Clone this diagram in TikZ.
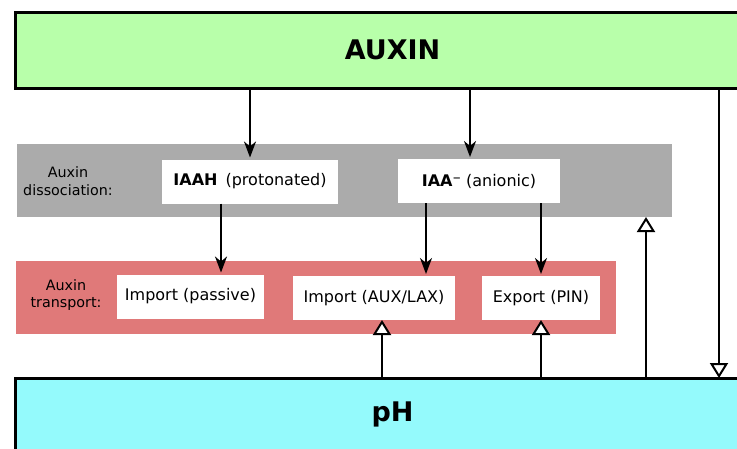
\documentclass[tikz,border=0pt]{standalone}
\usepackage{fontspec}
\setmainfont{DejaVu Sans}
\usetikzlibrary{arrows.meta}
\definecolor{auxgreen}{HTML}{B8FFAA}
\definecolor{dissgray}{HTML}{ABABAB}
\definecolor{transred}{HTML}{E07979}
\definecolor{phcyan}{HTML}{94FAFC}
\begin{document}
\begin{tikzpicture}[x=1pt,y=-1pt,inner sep=0pt,outer sep=0pt,line width=2pt,
>={Stealth[length=16pt,width=12pt,inset=5pt]},
levelbox/.style={draw,rectangle,line width=3pt,minimum width=755pt,font=\fontsize{27}{32}\selectfont\bfseries},
band/.style={rectangle,minimum height=73pt},
itembox/.style={rectangle,fill=white,minimum height=44pt,font=\fontsize{16}{19}\selectfont},
bandlabel/.style={align=center,font=\fontsize{14.3}{17.5}\selectfont},
flow/.style={->,shorten >=2pt},
feedback/.style={-{Triangle[fill=white,length=15pt,width=18pt]}}]
\clip (0,0) rectangle (737,448);
\draw (392.5,50) node[levelbox,fill=auxgreen,minimum height=76pt] (auxin) {AUXIN};
\draw (344.5,180.5) node[band,fill=dissgray,minimum width=655pt] (dissoc) {};
\draw (316,297.5) node[band,fill=transred,minimum width=600pt] (transport) {};
\draw (68,181) node[bandlabel] (disslabel) {Auxin\\dissociation:};
\draw (66,295) node[bandlabel] (translabel) {Auxin\\transport:};
\draw (250,181.5) node[itembox,minimum width=176pt] (iaah) {\textbf{IAAH}\enspace(protonated)};
\draw (479,181) node[itembox,minimum width=162pt] (iaa) {\textbf{IAA⁻} (anionic)};
\draw (190.5,296.5) node[itembox,minimum width=147pt] (passive) {Import (passive)};
\draw (374,298) node[itembox,minimum width=162pt] (auxlax) {Import (AUX/LAX)};
\draw (541,298) node[itembox,minimum width=118pt] (pin) {Export (PIN)};
\draw (392.5,414.5) node[levelbox,fill=phcyan,minimum height=73pt] (ph) {pH};
% where the connectors leave or meet the boxes
\coordinate (toiaa) at ([xshift=-9pt]iaa.north);
\coordinate (topassive) at ([xshift=-29pt]iaah.south);
\coordinate (tolax) at ([xshift=-53pt]iaa.south);
\coordinate (phlax) at ([xshift=8pt]auxlax.south);
\coordinate (phdiss) at ([xshift=-26pt]dissoc.south east);
\coordinate (auxph) at ([xshift=47pt]dissoc.east);
\draw[flow] (auxin.south -| iaah.north) -- (iaah.north);
\draw[flow] (auxin.south -| toiaa) -- (toiaa);
\draw[flow] (topassive) -- (topassive |- passive.north);
\draw[flow] (tolax) -- (tolax |- auxlax.north);
\draw[flow] (iaa.south -| pin.north) -- (pin.north);
\draw[feedback] (ph.north -| phlax) -- (phlax);
\draw[feedback] (ph.north -| pin.south) -- (pin.south);
\draw[feedback] (ph.north -| phdiss) -- (phdiss);
\draw[feedback] (auxin.south -| auxph) -- (auxph |- ph.north);
\end{tikzpicture}
\end{document}
